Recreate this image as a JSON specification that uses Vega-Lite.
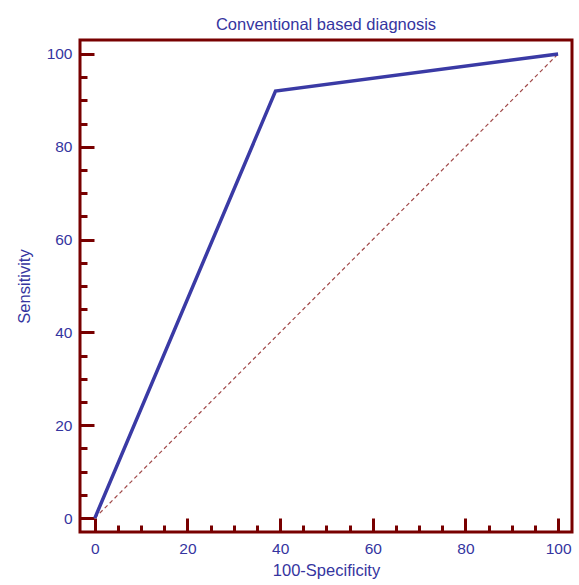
{
  "$schema": "https://vega.github.io/schema/vega-lite/v6.json",
  "width": 492,
  "height": 492,
  "autosize": {"type": "none"},
  "padding": {"left": 80, "top": 40, "right": 7, "bottom": 53},
  "background": "white",
  "title": {
    "text": "Conventional based diagnosis",
    "font": "Liberation Sans",
    "fontSize": 16.5,
    "fontWeight": "normal",
    "color": "#3535a0",
    "offset": 7,
    "anchor": "middle"
  },
  "config": {
    "view": {"stroke": "#780000", "strokeWidth": 3},
    "axis": {
      "grid": false,
      "domain": false,
      "tickColor": "#780000",
      "tickWidth": 3,
      "labelFont": "Liberation Sans",
      "labelFontSize": 15.5,
      "labelColor": "#3535a0",
      "titleFont": "Liberation Sans",
      "titleFontSize": 16.5,
      "titleFontWeight": "normal",
      "titleColor": "#3535a0"
    }
  },
  "datasets": {
    "roc": [
      {"spec": 0, "sens": 0},
      {"spec": 39, "sens": 92},
      {"spec": 100, "sens": 100}
    ],
    "diag": [
      {"spec": 0, "sens": 0},
      {"spec": 100, "sens": 100}
    ]
  },
  "resolve": {"axis": {"x": "independent", "y": "independent"}},
  "layer": [
    {
      "data": {"name": "diag"},
      "mark": {"type": "line", "color": "#a04848", "strokeWidth": 1.2, "strokeDash": [4, 3]},
      "encoding": {
        "x": {
          "field": "spec", "type": "quantitative",
          "scale": {"domain": [-3.2, 103], "nice": false, "zero": false},
          "axis": {"orient": "bottom", "values": [5, 10, 15, 25, 30, 35, 45, 50, 55, 65, 70, 75, 85, 90, 95], "tickSize": -7, "labels": false, "title": null}
        },
        "y": {
          "field": "sens", "type": "quantitative",
          "scale": {"domain": [-3, 103], "nice": false, "zero": false},
          "axis": {"orient": "left", "values": [5, 10, 15, 25, 30, 35, 45, 50, 55, 65, 70, 75, 85, 90, 95], "tickSize": -7, "labels": false, "title": null}
        }
      }
    },
    {
      "data": {"name": "roc"},
      "mark": {"type": "line", "color": "#3a3aa5", "strokeWidth": 3.5},
      "encoding": {
        "x": {
          "field": "spec", "type": "quantitative",
          "scale": {"domain": [-3.2, 103], "nice": false, "zero": false},
          "axis": {"orient": "bottom", "values": [0, 20, 40, 60, 80, 100], "tickSize": -14, "labelPadding": 23, "title": "100-Specificity", "titlePadding": 6}
        },
        "y": {
          "field": "sens", "type": "quantitative",
          "scale": {"domain": [-3, 103], "nice": false, "zero": false},
          "axis": {"orient": "left", "values": [0, 20, 40, 60, 80, 100], "tickSize": -14, "labelPadding": 22, "title": "Sensitivity", "titlePadding": 14}
        }
      }
    }
  ]
}
